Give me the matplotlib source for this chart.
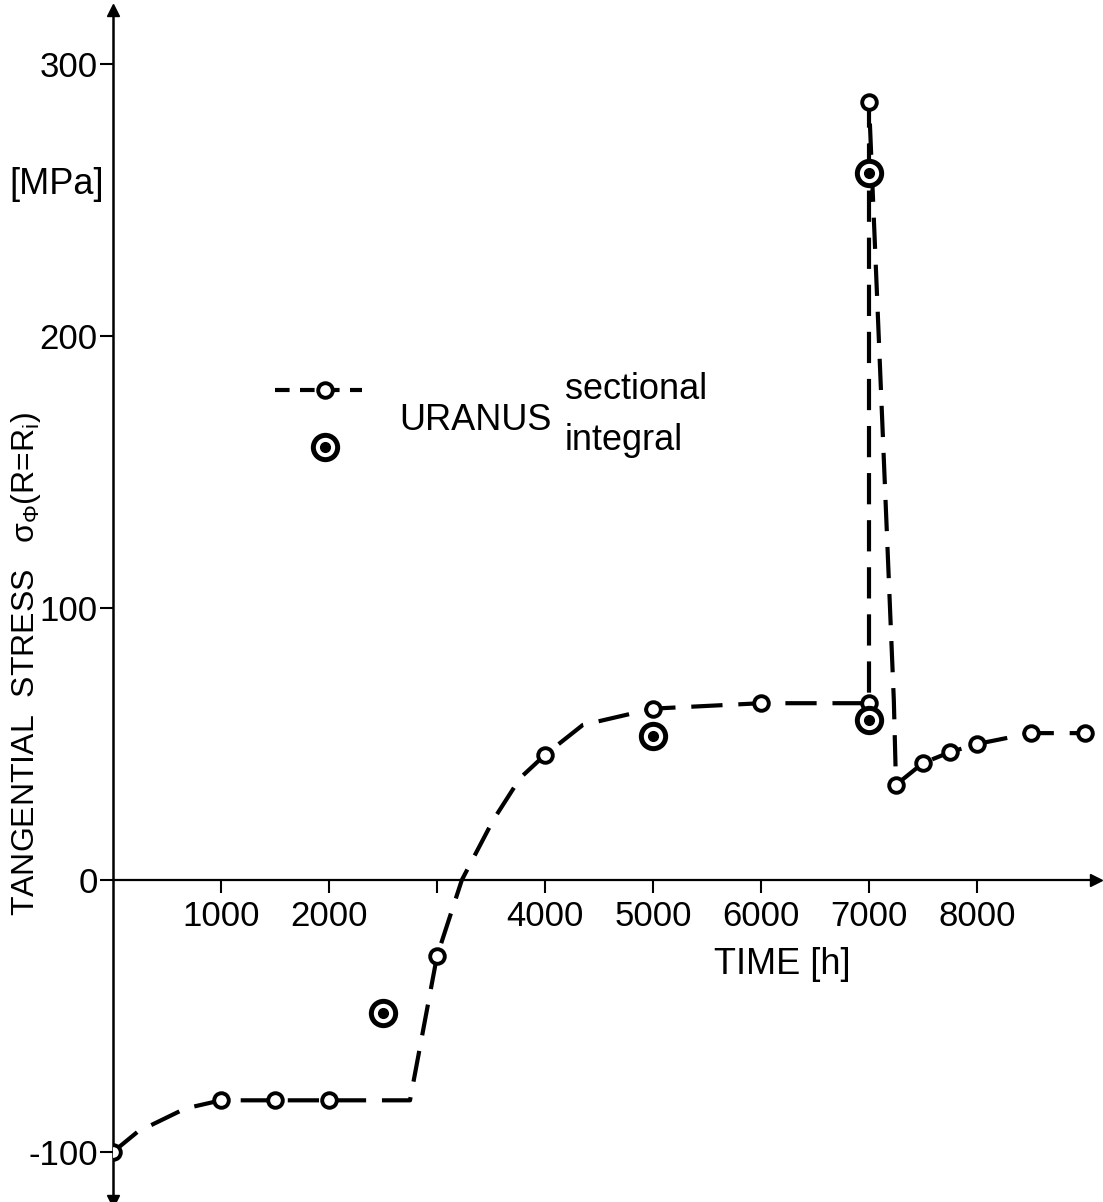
import matplotlib.pyplot as plt
from matplotlib.lines import Line2D

plt.rcParams['font.family'] = ['Liberation Sans Narrow', 'Liberation Sans', 'DejaVu Sans']
plt.rcParams['mathtext.fontset'] = 'custom'
plt.rcParams['mathtext.rm'] = 'Liberation Sans'
plt.rcParams['mathtext.it'] = 'Liberation Sans'
plt.rcParams['mathtext.sf'] = 'Liberation Sans'
plt.rcParams['axes.unicode_minus'] = False

# URANUS sectional: dashed curve path as drawn, and the marked points on it
curveTime = [0, 230, 670, 1000, 1500, 2000, 2750, 3000, 3230, 3520, 3770, 4000, 4350,
             5000, 6000, 7000, 7000, 7230, 7250, 7500, 7750, 8000, 8500, 9000]
curveStress = [-100, -92.5, -84, -81, -81, -81, -81, -28, 0, 22, 37.5, 46, 57,
               63, 65, 65, 286, 66, 35, 43, 47, 50, 54, 54]

sectionalTime = [0, 1000, 1500, 2000, 3000, 4000, 5000, 6000, 7000, 7000,
                 7250, 7500, 7750, 8000, 8500, 9000]
sectionalStress = [-100, -81, -81, -81, -28, 46, 63, 65, 65, 286,
                   35, 43, 47, 50, 54, 54]

# URANUS integral
integralTime = [2500, 5000, 7000, 7000]
integralStress = [-49, 53, 260, 59]

xTicks = [1000, 2000, 3000, 4000, 5000, 6000, 7000, 8000]
xTickLabels = ["1000", "2000", "", "4000", "5000", "6000", "7000", "8000"]
yTicks = [-100, 0, 100, 200, 300]

W, H = 1103, 1202
fig = plt.figure(figsize=(W / 100, H / 100), dpi=100)

# axes placed so 1000 h ~ 108 px and 100 MPa ~ 272 px
xmin, xmax = 0, 9100
ymin, ymax = -118, 320
left = 113 / W
width = (xmax - xmin) * 0.108 / W
bottom = (H - (880 + (-ymin) * 2.72)) / H
height = (ymax - ymin) * 2.72 / H
ax = fig.add_axes([left, bottom, width, height])
ax.set_xlim(xmin, xmax)
ax.set_ylim(ymin, ymax)

for s in ['top', 'right']:
    ax.spines[s].set_visible(False)
ax.spines['left'].set_position(('data', 0))
ax.spines['bottom'].set_position(('data', 0))
ax.spines['left'].set_linewidth(1.8)
ax.spines['bottom'].set_linewidth(1.6)

# axis arrows
ax.plot(1, 0, marker='>', color='k', markersize=9, transform=ax.get_yaxis_transform(), clip_on=False)
ax.plot(0, 1, marker='^', color='k', markersize=9, transform=ax.get_xaxis_transform(), clip_on=False)
ax.plot(0, 0, marker='v', color='k', markersize=9, transform=ax.get_xaxis_transform(), clip_on=False)

ax.set_xticks(xTicks)
ax.set_xticklabels(xTickLabels)
ax.set_yticks(yTicks)
ax.tick_params(axis='both', length=9.5, width=1.5, labelsize=25, direction='out')
ax.tick_params(axis='x', pad=5)
ax.tick_params(axis='y', pad=1.5)

ax.plot(curveTime, curveStress, color='k', lw=3.0, dashes=(7.5, 3.8), solid_capstyle='butt', zorder=3)
ax.plot(sectionalTime, sectionalStress, linestyle='none', marker='o', markersize=10.5,
        markerfacecolor='white', markeredgecolor='k', markeredgewidth=2.8, zorder=4)
ax.plot(integralTime, integralStress, linestyle='none', marker='o', markersize=17.5,
        markerfacecolor='white', markeredgecolor='k', markeredgewidth=3.6, zorder=5)
ax.plot(integralTime, integralStress, linestyle='none', marker='o', markersize=7,
        color='k', zorder=6)

# legend drawn by hand
def fx(px):
    return px / W

def fy(py):
    return 1 - py / H

fig.add_artist(Line2D([fx(275), fx(362)], [fy(390), fy(390)], color='k', lw=3.0, dashes=(3.5, 2.5)))
fig.add_artist(Line2D([fx(325)], [fy(390)], marker='o', markersize=10.5, markerfacecolor='white',
                      markeredgecolor='k', markeredgewidth=2.8))
fig.add_artist(Line2D([fx(325)], [fy(447)], marker='o', markersize=17.5, markerfacecolor='white',
                      markeredgecolor='k', markeredgewidth=3.6))
fig.add_artist(Line2D([fx(325)], [fy(447)], marker='o', markersize=7, color='k'))
fig.text(fx(475), fy(420), "URANUS", fontsize=26, ha='center', va='center')
fig.text(fx(565), fy(390), "sectional", fontsize=26, ha='left', va='center')
fig.text(fx(565), fy(440), "integral", fontsize=26, ha='left', va='center')

fig.text(fx(782), fy(965), "TIME [h]", fontsize=26, ha='center', va='center')
fig.text(fx(57), fy(185), "[MPa]", fontsize=26, ha='center', va='center')
fig.text(fx(26), fy(664), r"TANGENTIAL  STRESS   $\sigma_{\Phi}$(R=R$_i$)", fontsize=23,
         rotation=90, ha='center', va='center')

fig.savefig("out.png", dpi=100)
